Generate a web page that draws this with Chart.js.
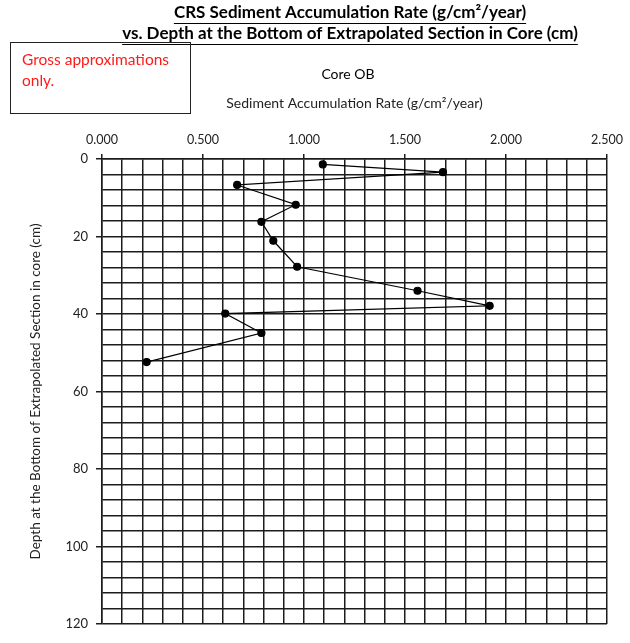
<!DOCTYPE html>
<html>
<head>
<meta charset="utf-8">
<script src="https://cdn.jsdelivr.net/npm/chart.js@4"></script>
<style>
  html, body { margin: 0; padding: 0; background: #fff; }
  #wrap { width: 630px; height: 643px; }
</style>
</head>
<body>
<div id="wrap"><canvas id="coreChart"></canvas></div>
<script>
// values
const rates = [1.093, 1.688, 0.669, 0.959, 0.789, 0.848, 0.966, 1.562, 1.919, 0.610, 0.789, 0.221];
const depths = [1.4, 3.4, 6.7, 11.8, 16.2, 21.1, 27.8, 34.0, 37.9, 39.9, 44.9, 52.4];
const titleLines = ['CRS Sediment Accumulation Rate (g/cm\u00b2/year)',
                    'vs. Depth at the Bottom of Extrapolated Section in Core (cm)'];
const subTitle = 'Core OB';
const noteLines = ['Gross approximations', 'only.'];
const xTitle = 'Sediment Accumulation Rate (g/cm\u00b2/year)';
const yTitle = 'Depth at the Bottom of Extrapolated Section in core (cm)';

const FONT = 'Lato, "Open Sans", sans-serif';
const gridColor = '#1c1c1c';

const points = rates.map((r, i) => ({ x: r, y: depths[i] }));

const isMajor = (v, step) => Math.abs(v / step - Math.round(v / step)) < 1e-6;

const headerPlugin = {
    id: 'header',
    afterDraw(chart) {
        const ctx = chart.ctx;
        ctx.save();
        ctx.fillStyle = '#000';
        ctx.strokeStyle = '#000';
        ctx.textAlign = 'center';
        ctx.textBaseline = 'middle';
        ctx.font = 'bold 17px ' + FONT;
        const cx = 350;
        [13, 34].forEach((y, i) => {
            ctx.fillText(titleLines[i], cx, y);
            const w = ctx.measureText(titleLines[i]).width;
            ctx.lineWidth = 1;
            ctx.beginPath();
            ctx.moveTo(cx - w / 2, y + 10.5);
            ctx.lineTo(cx + w / 2, y + 10.5);
            ctx.stroke();
        });

        ctx.font = '14px ' + FONT;
        ctx.fillText(subTitle, 348, 74);

        // note box
        ctx.lineWidth = 1;
        ctx.strokeStyle = '#222';
        ctx.strokeRect(10.5, 42.5, 180, 71);
        ctx.fillStyle = '#ff1a1a';
        ctx.textAlign = 'left';
        ctx.font = '15.5px ' + FONT;
        ctx.fillText(noteLines[0], 22, 60);
        ctx.fillText(noteLines[1], 22, 81);
        ctx.restore();
    }
};

new Chart(document.getElementById('coreChart'), {
    type: 'scatter',
    data: {
        datasets: [{
            data: points,
            showLine: true,
            borderColor: '#000',
            borderWidth: 1.2,
            backgroundColor: '#000',
            pointRadius: 3.5,
            pointHoverRadius: 3.5,
        }]
    },
    options: {
        responsive: true,
        maintainAspectRatio: false,
        animation: false,
        layout: { padding: { left: 0, top: 0, right: 17, bottom: 19 } },
        plugins: { legend: { display: false }, tooltip: { enabled: false } },
        scales: {
            x: {
                type: 'linear',
                position: 'top',
                min: 0,
                max: 2.5,
                afterFit: (scale) => { scale.height = 159; },
                ticks: {
                    stepSize: 0.1,
                    autoSkip: false,
                    maxRotation: 0,
                    color: '#222',
                    font: { family: FONT, size: 12.5 },
                    padding: 7,
                    callback: (v) => isMajor(v, 0.5) ? v.toFixed(3) : '',
                },
                grid: {
                    color: gridColor,
                    lineWidth: 1.5,
                    tickLength: 5,
                    tickColor: (c) => (c.tick && isMajor(c.tick.value, 0.5)) ? gridColor : 'rgba(0,0,0,0)',
                },
                border: { color: gridColor, width: 1.5 },
                title: {
                    display: true,
                    text: xTitle,
                    color: '#222',
                    font: { family: FONT, size: 14 },
                    padding: { top: 95, bottom: 0 },
                },
            },
            y: {
                type: 'linear',
                reverse: true,
                min: 0,
                max: 120,
                afterFit: (scale) => { scale.width = 102; },
                ticks: {
                    stepSize: 4,
                    autoSkip: false,
                    color: '#222',
                    font: { family: FONT, size: 13 },
                    padding: 8,
                    callback: (v) => isMajor(v, 20) ? String(v) : '',
                },
                grid: {
                    color: gridColor,
                    lineWidth: 1.5,
                    tickLength: 6,
                    tickColor: (c) => (c.tick && isMajor(c.tick.value, 20)) ? gridColor : 'rgba(0,0,0,0)',
                },
                border: { color: gridColor, width: 1.5 },
                title: {
                    display: true,
                    text: yTitle,
                    color: '#222',
                    font: { family: FONT, size: 13.5 },
                    padding: { top: 28, bottom: 0 },
                },
            }
        }
    },
    plugins: [headerPlugin]
});
</script>
</body>
</html>
